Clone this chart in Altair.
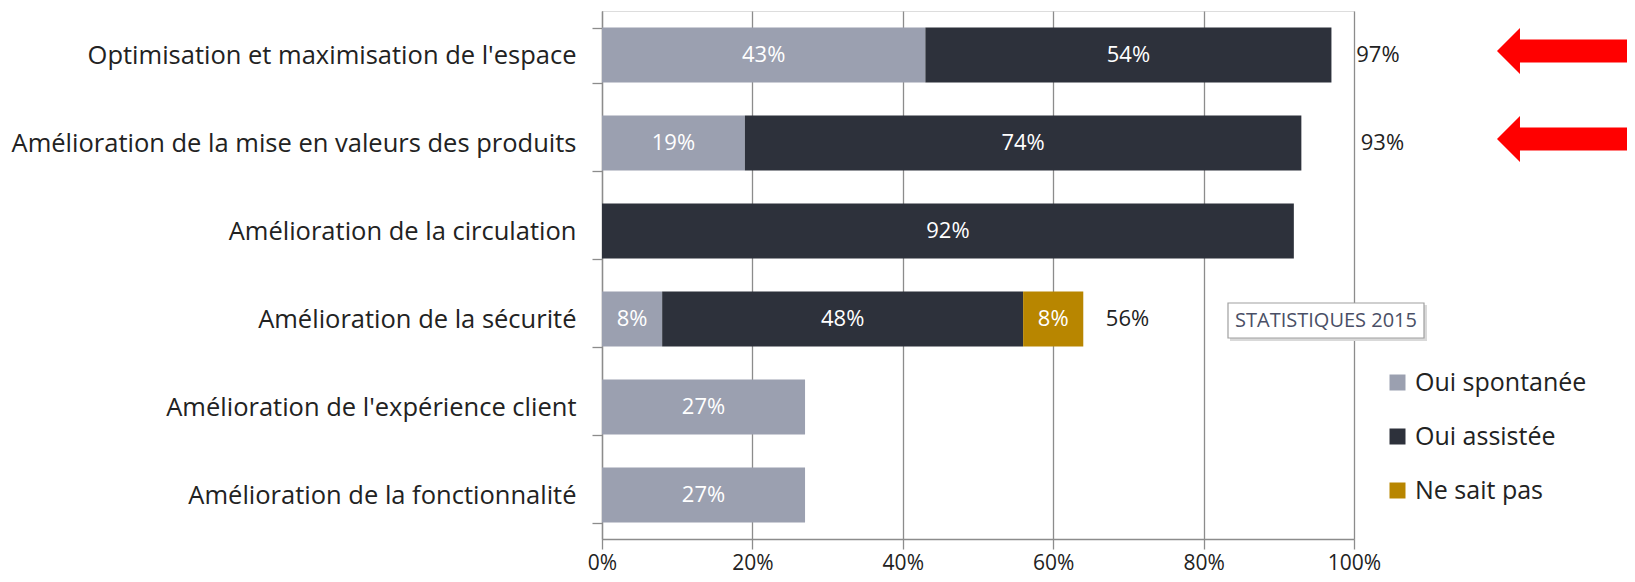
import altair as alt
import pandas as pd

categories = [
    "Optimisation et maximisation de l'espace",
    "Amélioration de la mise en valeurs des produits",
    "Amélioration de la circulation",
    "Amélioration de la sécurité",
    "Amélioration de l'expérience client",
    "Amélioration de la fonctionnalité",
]
series = ["Oui spontanée", "Oui assistée", "Ne sait pas"]
oui_spontanee = [43, 19, 0, 8, 27, 27]
oui_assistee = [54, 74, 92, 48, 0, 0]
ne_sait_pas = [0, 0, 0, 8, 0, 0]
total_labels = ["97%", "93%", "", "56%", "", ""]
total_label_at = [100.3, 100.9, None, 67.0, None, None]
highlighted = [True, True, False, False, False, False]
x_ticks = [0, 20, 40, 60, 80, 100]
colors = ["#9ba0b0", "#2d313b", "#b88600"]
badge = "STATISTIQUES 2015"

FONT = "Open Sans"
TEXT = "#222222"
GRID = "#8c8c8c"

rows = []
for i, cat in enumerate(categories):
    start = 0
    for s, vals in zip(series, [oui_spontanee, oui_assistee, ne_sait_pas]):
        v = vals[i]
        rows.append({"cat": cat, "series": s, "order": series.index(s),
                     "value": v, "x0": start, "x1": start + v,
                     "label": f"{v}%" if v else ""})
        start += v
bars_df = pd.DataFrame(rows)
bars_df = bars_df[bars_df["value"] > 0]

tot_df = pd.DataFrame({"cat": categories, "label": total_labels, "at": total_label_at})
tot_df = tot_df[tot_df["label"] != ""]
arrow_df = pd.DataFrame({"cat": categories, "hl": highlighted})
arrow_df = arrow_df[arrow_df["hl"]]
badge_df = pd.DataFrame({"badge": [badge]})

xscale = alt.Scale(domain=[0, 100], nice=False)
yscale = alt.Scale(domain=categories, paddingInner=0.375, paddingOuter=0.1875)

y_enc = alt.Y("cat:N", scale=yscale, sort=categories, title=None,
              axis=alt.Axis(labelFontSize=25.5, labelFont=FONT, labelColor=TEXT,
                            labelPadding=16, labelLimit=800, tickBand="extent",
                            tickSize=10, tickColor=GRID, tickWidth=1.3,
                            domainColor=GRID, domainWidth=1.3, grid=False))

bars = alt.Chart(bars_df).mark_bar(cornerRadius=0).encode(
    x=alt.X("x0:Q", scale=xscale, title=None,
            axis=alt.Axis(values=x_ticks, labelExpr="datum.value + '%'",
                          labelFontSize=21, labelFont=FONT, labelColor=TEXT,
                          labelFlush=False, labelPadding=3, tickSize=10,
                          tickColor=GRID, tickWidth=1.3,
                          domainColor=GRID, domainWidth=1.3,
                          grid=True, gridColor=GRID, gridWidth=1.3)),
    x2="x1:Q",
    y=y_enc,
    color=alt.Color("series:N", scale=alt.Scale(domain=series, range=colors),
                    legend=alt.Legend(orient="none", legendX=783, legendY=359,
                                      title=None, symbolType="square", symbolSize=256,
                                      symbolStrokeWidth=0, labelFontSize=25,
                                      labelFont=FONT, labelColor=TEXT, labelOffset=5,
                                      labelLimit=400, rowPadding=28, padding=0)),
)

seg_text = alt.Chart(bars_df).transform_calculate(
    mid="(datum.x0 + datum.x1) / 2"
).mark_text(font=FONT, fontSize=22, color="white", align="center", baseline="middle").encode(
    x=alt.X("mid:Q", scale=xscale),
    y=alt.Y("cat:N", scale=yscale, sort=categories),
    text="label:N",
)

tot_text = alt.Chart(tot_df).mark_text(font=FONT, fontSize=22, color=TEXT,
                                       align="left", baseline="middle").encode(
    x=alt.X("at:Q", scale=xscale),
    y=alt.Y("cat:N", scale=yscale, sort=categories),
    text="label:N",
)

arrow_path = "M -1 0 L -0.667 -0.333 L -0.667 -0.167 L 1 -0.167 L 1 0.167 L -0.667 0.167 L -0.667 0.333 Z"
arrows = alt.Chart(arrow_df).mark_point(shape=arrow_path, filled=True, color="#ff0000",
                                        opacity=1, size=19044, strokeWidth=0,
                                        yOffset=-4).encode(
    x=alt.value(964),
    y=alt.Y("cat:N", scale=yscale, sort=categories),
)

badge_shadow = alt.Chart(badge_df).mark_rect(fill="#d9d9d9").encode(
    x=alt.value(628), x2=alt.value(825), y=alt.value(294), y2=alt.value(330))
badge_box = alt.Chart(badge_df).mark_rect(fill="white", stroke="#a0a0a0", strokeWidth=1.2).encode(
    x=alt.value(626), x2=alt.value(822), y=alt.value(292), y2=alt.value(327))
badge_text = alt.Chart(badge_df).mark_text(font=FONT, fontSize=20, color="#4a4f66",
                                           align="center", baseline="middle").encode(
    x=alt.value(724), y=alt.value(310), text="badge:N")

chart = alt.layer(bars, seg_text, tot_text, arrows, badge_shadow, badge_box, badge_text).properties(
    width=752, height=528,
    autosize=alt.AutoSizeParams(type="none"),
    padding={"left": 594, "top": 3, "right": 273, "bottom": 43},
).configure_view(stroke=None).configure(font=FONT)

chart.save("out.html", embed_options={"renderer": "svg", "actions": False})
